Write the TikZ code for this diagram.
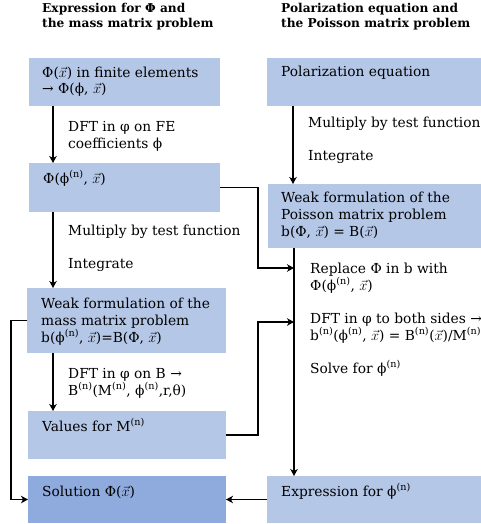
\documentclass[tikz,border=0pt]{standalone}
\usepackage{fontspec}
\setmainfont{DejaVu Serif}
\usetikzlibrary{arrows.meta}
\definecolor{boxblue}{HTML}{B4C7E7}
\definecolor{solblue}{HTML}{8FAADC}
\newcommand{\sn}{\textsuperscript{(n)}}
\newcommand{\xv}{$\vec{x}$}
\begin{document}
\begin{tikzpicture}[x=1pt,y=-1pt,
  box/.style={fill=boxblue, draw=none, anchor=north west, inner sep=0pt, outer sep=0pt},
  txt/.style={anchor=base west, align=left, inner sep=0pt, font=\fontsize{13.8}{17}\selectfont},
  hdr/.style={anchor=base west, align=left, inner sep=0pt, font=\fontsize{12.2}{15}\selectfont\bfseries},
  arr/.style={-{Stealth[length=7pt,width=7.5pt,inset=2pt]}, line width=1.1pt},
  ln/.style={line width=1.1pt}]
\useasboundingbox (0,0) rectangle (480,524);
% headers (base = last line)
\node[hdr] (hl) at (42,28) {Expression for Φ and\\the mass matrix problem};
\node[hdr] (hr) at (281,28) {Polarization equation and\\the Poisson matrix problem};
% left boxes
\node[box, minimum width=191pt, minimum height=48pt] (b1) at (29,58) {};
\node[box, minimum width=191pt, minimum height=49pt] (b2) at (29,163) {};
\node[box, minimum width=199pt, minimum height=65pt] (b3) at (27,288) {};
\node[box, minimum width=198pt, minimum height=48pt] (b4) at (28,411) {};
\node[box, fill=solblue, minimum width=198pt, minimum height=47pt] (b5) at (28,476) {};
% right boxes
\node[box, minimum width=220pt, minimum height=48pt] (r1) at (267,58) {};
\node[box, minimum width=220pt, minimum height=64pt] (r2) at (268,184) {};
\node[box, minimum width=220pt, minimum height=47pt] (r3) at (267,476) {};
% box texts
\node[txt] (t1) at (42,94) {Φ(\xv) in finite elements\\→ Φ(ϕ, \xv)};
\node[txt] (t2) at (43,183) {Φ(ϕ\sn, \xv)};
\node[txt] (t3) at (41,342) {Weak formulation of the\\mass matrix problem\\b(ϕ\sn, \xv)=B(Φ, \xv)};
\node[txt] (t4) at (42,431) {Values for M\sn};
\node[txt] (t5) at (42,496) {Solution Φ(\xv)};
\node[txt] (u1) at (281,77) {Polarization equation};
\node[txt] (u2) at (281,236) {Weak formulation of the\\Poisson matrix problem\\b(Φ, \xv) = B(\xv)};
\node[txt] (u3) at (281,496) {Expression for ϕ\sn};
% connector labels
\node[txt] (l1) at (68,148) {DFT in φ on FE\\coefficients ϕ};
\node[txt] (l2) at (68,235) {Multiply by test function};
\node[txt] (l3) at (68,268) {Integrate};
\node[txt] (l4) at (68,395) {DFT in φ on B →\\B\sn(M\sn, ϕ\sn,r,θ)};
\node[txt] (m1) at (308,128) {Multiply by test function};
\node[txt] (m2) at (308,160) {Integrate};
\node[txt] (m3) at (310,290) {Replace Φ in b with\\Φ(ϕ\sn, \xv)};
\node[txt] (m4) at (310,340) {DFT in φ to both sides →\\b\sn(ϕ\sn, \xv) = B\sn(\xv)/M\sn};
\node[txt] (m5) at (310,373) {Solve for ϕ\sn};
% junction coordinates
\coordinate (jx) at (258,0);
\coordinate (lx) at (11,0);
\coordinate (e1) at (294,268);
\coordinate (e2) at (294,322);
% connectors
\draw[arr] ([xshift=24pt]b1.south west) -- ([xshift=24pt]b1.south west |- b2.north);
\draw[arr] ([xshift=24pt]b2.south west) -- ([xshift=24pt]b2.south west |- b3.north);
\draw[arr] ([xshift=26pt]b3.south west) -- ([xshift=26pt]b3.south west |- b4.north);
\draw[arr] ([xshift=26pt]r1.south west) -- ([xshift=26pt]r1.south west |- r2.north);
\draw[arr] ([xshift=26pt]r2.south west) -- ([xshift=26pt]r2.south west |- r3.north);
\draw[arr] (b2.east) -| (jx |- e1) -- (e1);
\draw[arr] (b4.east) -| (jx |- e2) -- (e2);
\draw[arr] (b3.west) -| (lx |- b5.west) -- (b5.west);
\draw[arr] (r3.west) -- (b5.east);
\end{tikzpicture}
\end{document}
